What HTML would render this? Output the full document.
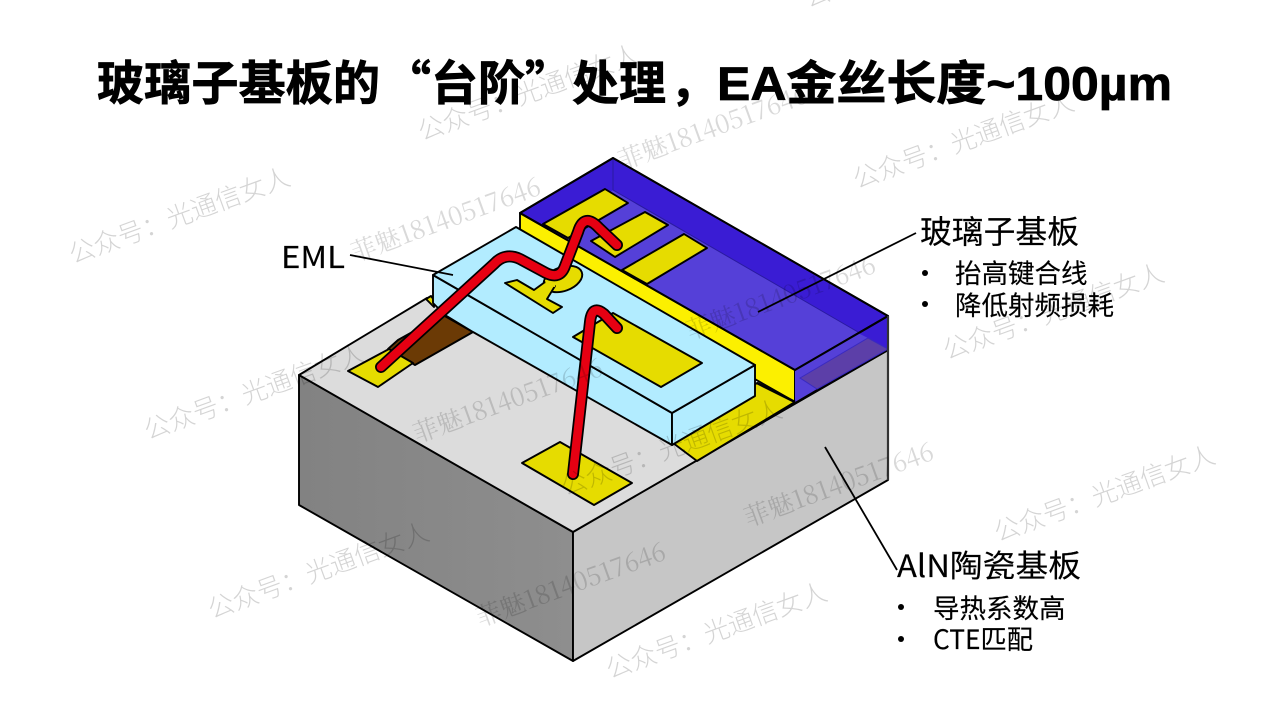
<!DOCTYPE html>
<html lang="zh"><head><meta charset="utf-8"><title>玻璃子基板的台阶处理</title>
<style>
html,body{margin:0;padding:0;background:#fff}
svg{display:block}
.s{stroke:#000;stroke-width:1.9;stroke-linejoin:round}
.t{font-family:"Liberation Sans","Noto Sans CJK SC",sans-serif;font-weight:700;font-size:47px;fill:#000;stroke:#000;stroke-width:.7}
.c{font-family:"Noto Sans CJK SC",sans-serif}
.l{font-family:"Noto Sans CJK SC","Liberation Sans",sans-serif;fill:#000;stroke:#000;stroke-width:.15}
.w1{font-family:"Noto Sans CJK SC",sans-serif;font-weight:300;font-size:25.9px;fill:#000;fill-opacity:.17}
.w2{font-family:"Noto Serif CJK SC","Liberation Serif",serif;font-size:25.4px;fill:#000;fill-opacity:.15}
</style></head>
<body>
<svg width="1269" height="714" viewBox="0 0 1269 714" xmlns="http://www.w3.org/2000/svg">
<rect width="1269" height="714" fill="#fff"/>

<text class="t" x="97" y="100" textLength="283" lengthAdjust="spacingAndGlyphs">玻璃子基板的</text>
<text class="t c" y="100" x="384 431 478 525 572 619 670">“台阶”处理，</text>
<text class="t" x="717" y="100" textLength="455" lengthAdjust="spacingAndGlyphs">EA金丝长度~100µm</text>

<!-- ceramic -->
<defs>
<linearGradient id="g" x1="0" y1="0" x2="1" y2="0"><stop offset="0" stop-color="#828282"/><stop offset="1" stop-color="#8e8e8e"/></linearGradient>
</defs>
<polygon class="s" points="299,375 573,532 573,661 299,505" fill="url(#g)"/>
<polygon class="s" points="573,532 888,350 888,480 573,661" fill="#c6c6c6"/>
<polygon class="s" points="299,375 427,298 795,402 888,350 573,532" fill="#dcdcdc"/>

<!-- pads on ceramic -->
<polygon class="s" points="673,443 757,383 795,402 697,461" fill="#e6dc00"/>
<polygon class="s" points="426,299 431,296 434,300 434,307" fill="#e6dc00"/>
<polygon class="s" points="443,315 473,332 415,365 400,356 388,349 398,340" fill="#6b3a05"/>
<polygon class="s" points="348,371 389,349 413,363 378,387" fill="#e6dc00"/>
<polygon class="s" points="560,442 632,483 594,505 522,463" fill="#e6dc00"/>

<!-- glass -->
<polygon class="s" points="520,213 795,370 795,402 520,245" fill="#fcf000"/>
<polygon class="s" points="613,158 888,316 795,370 520,213" fill="#3a1cd4"/>
<polygon points="613,190 858,332 795,370 553,231" fill="#5540d8"/>
<path d="M613,158V190L858,332" fill="none" stroke="#2a1aa0" stroke-width="1"/>
<polygon class="s" points="795,370 888,316 888,350 795,402" fill="#3a1cd4"/>
<polygon points="795,370 858,333 868,338 800,378 817,389 795,402" fill="#5540d8"/>
<polygon points="800,378 868,338 888,349 817,389" fill="#5c3fa8" stroke="#3a2ac0" stroke-width="1"/>
<polygon class="s" points="613,158 888,316 795,370 520,213" fill="none"/>
<path d="M757,383 795,402" stroke="#000" stroke-width="2.6"/>
<path d="M888,316V480" stroke="#333" stroke-width="2.2"/>

<polygon class="s" points="605,189 628,203 568,238 543,224" fill="#e6dc00"/>
<polygon class="s" points="645,212 668,225 615,257 591,241" fill="#e6dc00"/>
<polygon class="s" points="684,234 707,248 647,284 622,270" fill="#e6dc00"/>

<!-- EML chip -->
<polygon class="s" points="433,275 672,413 672,445 473,332 445,315 433,303" fill="#b2ecff"/>
<polygon class="s" points="672,413 755,365 755,396 672,445" fill="#b2ecff"/>
<polygon class="s" points="433,275 516,227 755,365 672,413" fill="#b2ecff"/>
<ellipse class="s" cx="563" cy="279" rx="20" ry="12" transform="rotate(-20 563 279)" fill="#e6dc00"/>
<polygon class="s" points="505,283 517,280 534,290 545,282 555,286 547,299 562,307 553,313" fill="#e6dc00"/>
<polygon points="545,280 556,278 555,287 546,286" fill="#e6dc00"/>
<polygon class="s" points="613,313 702,363 661,387 573,337" fill="#e6dc00"/>

<!-- bond wires -->
<g fill="none" stroke-linecap="round" stroke-linejoin="round">
<path d="M381,367 L494,264 Q505,252 520,259 L546,273 Q560,280 565,266 L578,232 Q584,212 599,228 L617,245" stroke="#000" stroke-width="12"/>
<path d="M381,367 L494,264 Q505,252 520,259 L546,273 Q560,280 565,266 L578,232 Q584,212 599,228 L617,245" stroke="#e60012" stroke-width="8.5"/>
<path d="M573,474 L590,322 Q592,304 604,314 L617,328" stroke="#000" stroke-width="12"/>
<path d="M573,474 L590,322 Q592,304 604,314 L617,328" stroke="#e60012" stroke-width="8.5"/>
</g>

<!-- leader lines -->
<path d="M350,255 L453,275" stroke="#000" stroke-width="1.8"/>
<path d="M758,312 L916,233" stroke="#000" stroke-width="1.8"/>
<path d="M825,447 L897,570" stroke="#000" stroke-width="1.8"/>

<!-- labels -->
<text class="l" x="281" y="268" font-size="30" textLength="64" lengthAdjust="spacingAndGlyphs">EML</text>
<text class="l" x="920" y="243" font-size="31.8">玻璃子基板</text>
<circle cx="925" cy="273" r="3"/>
<text class="l" x="955" y="283" font-size="26.5">抬高键合线</text>
<circle cx="925" cy="304" r="3"/>
<text class="l" x="955" y="315" font-size="26.5">降低射频损耗</text>
<text class="l" x="897" y="577" font-size="31" textLength="184" lengthAdjust="spacingAndGlyphs">AlN陶瓷基板</text>
<circle cx="901" cy="607" r="3"/>
<text class="l" x="933" y="618" font-size="26.5">导热系数高</text>
<circle cx="901" cy="639" r="3"/>
<text class="l" x="933" y="649" font-size="26.5" textLength="100" lengthAdjust="spacingAndGlyphs">CTE匹配</text>

<!-- watermarks -->
<g>
<text class="w1" transform="translate(73,264) rotate(-20)">公众号：光通信女人</text>
<text class="w1" transform="translate(422,141) rotate(-20)">公众号：光通信女人</text>
<text class="w1" transform="translate(857,189) rotate(-20)">公众号：光通信女人</text>
<text class="w1" transform="translate(148,440) rotate(-20)">公众号：光通信女人</text>
<text class="w1" transform="translate(947,360) rotate(-20)">公众号：光通信女人</text>
<text class="w1" transform="translate(565,496) rotate(-20)">公众号：光通信女人</text>
<text class="w1" transform="translate(998,542) rotate(-20)">公众号：光通信女人</text>
<text class="w1" transform="translate(212,619) rotate(-20)">公众号：光通信女人</text>
<text class="w1" transform="translate(610,679) rotate(-20)">公众号：光通信女人</text>
<text class="w1" transform="translate(808,8) rotate(-20)">公众号：光通信女人</text>
</g>
<g>
<text class="w2" transform="translate(355,262) rotate(-20)">菲魅18140517646</text>
<text class="w2" transform="translate(622,170) rotate(-20)">菲魅18140517646</text>
<text class="w2" transform="translate(690,340) rotate(-20)">菲魅18140517646</text>
<text class="w2" transform="translate(417,443) rotate(-20)">菲魅18140517646</text>
<text class="w2" transform="translate(748,527) rotate(-20)">菲魅18140517646</text>
<text class="w2" transform="translate(480,627) rotate(-20)">菲魅18140517646</text>
</g>
</svg>
</body></html>
